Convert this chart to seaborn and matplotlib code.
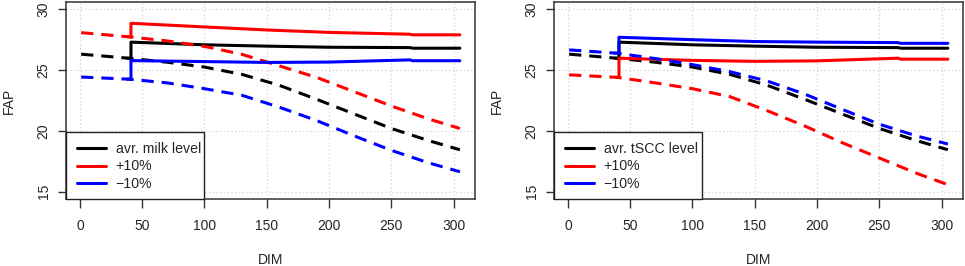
import matplotlib
matplotlib.use("Agg")
import matplotlib.pyplot as plt
import matplotlib.patches as mpatches
import numpy as np
import pandas as pd
import seaborn as sns
from matplotlib.lines import Line2D

# ---------------- data ----------------
dim_dashed = [1, 40, 70, 100, 130, 160, 190, 220, 250, 280, 305]
dim_solid = [38, 41, 41, 100, 150, 200, 265, 267, 305]

# shared average curves
avr_dashed = [26.31, 25.97, 25.65, 25.25, 24.65, 23.75, 22.6, 21.4, 20.2, 19.2, 18.45]
avr_solid = [25.98, 25.95, 27.3, 27.08, 26.97, 26.88, 26.85, 26.8, 26.8]

# left panel: milk level
milk_plus_dashed = [28.08, 27.73, 27.4, 26.95, 26.3, 25.35, 24.4, 23.23, 22.05, 20.98, 20.2]
milk_minus_dashed = [24.43, 24.25, 23.95, 23.47, 22.93, 21.95, 20.85, 19.6, 18.4, 17.37, 16.64]
milk_plus_solid = [27.75, 27.72, 28.85, 28.55, 28.3, 28.1, 27.95, 27.9, 27.9]
milk_minus_solid = [24.26, 24.24, 25.78, 25.7, 25.63, 25.66, 25.84, 25.77, 25.77]

# right panel: tSCC level
tscc_plus_dashed = [24.61, 24.4, 23.95, 23.47, 22.82, 21.66, 20.41, 19.04, 17.77, 16.51, 15.58]
tscc_minus_dashed = [26.66, 26.38, 25.95, 25.45, 24.87, 24.1, 23.03, 21.78, 20.55, 19.58, 18.92]
tscc_plus_solid = [24.41, 24.39, 25.98, 25.8, 25.72, 25.76, 25.98, 25.9, 25.9]
tscc_minus_solid = [26.4, 26.37, 27.7, 27.5, 27.35, 27.3, 27.26, 27.2, 27.2]

labels_left = ["avr. milk level", "+10%", "\u221210%"]
labels_right = ["avr. tSCC level", "+10%", "\u221210%"]
colors = ["black", "#ff0000", "#0000ff"]
x_ticks = [0, 50, 100, 150, 200, 250, 300]
y_ticks = [15, 20, 25, 30]

# ---------------- style ----------------
sns.set_style("white")
plt.rcParams["font.family"] = ["Liberation Sans", "DejaVu Sans"]

W, H = 965, 266
fig = plt.figure(figsize=(W / 100, H / 100), dpi=100)
AX_BOTTOM, AX_TOP = 199, 2
ax1 = fig.add_axes([66 / W, 1 - AX_BOTTOM / H, (475 - 66) / W, (AX_BOTTOM - AX_TOP) / H])
ax2 = fig.add_axes([554 / W, 1 - AX_BOTTOM / H, (963 - 554) / W, (AX_BOTTOM - AX_TOP) / H])

LW = 2.2
DASH = (0, (4.0, 2.6))
FS = 10


def draw(ax, solids, dasheds, labels, box_right_px, ax_left_px):
    for col, s, d in zip(colors, solids, dasheds):
        dfs = pd.DataFrame({"DIM": dim_solid, "FAP": s})
        dfd = pd.DataFrame({"DIM": dim_dashed, "FAP": d})
        sns.lineplot(data=dfs, x="DIM", y="FAP", ax=ax, color=col, lw=LW,
                     estimator=None, sort=False)
        l = sns.lineplot(data=dfd, x="DIM", y="FAP", ax=ax, color=col, lw=LW,
                         estimator=None, sort=False)
        l.lines[-1].set_linestyle(DASH)
    ax.set_xlim(-11.16, 317.16)
    ax.set_ylim(14.4, 30.6)
    ax.set_xticks(x_ticks)
    ax.set_yticks(y_ticks)
    ax.grid(True, color="#d3d3d3", linestyle=(0, (1, 2)), lw=0.9)
    ax.set_axisbelow(True)
    for sp in ax.spines.values():
        sp.set_color("#333333")
        sp.set_linewidth(1.1)
    ax.tick_params(axis="x", direction="out", length=6.5, width=1.0,
                   color="#333333", labelsize=FS, pad=8, bottom=True)
    ax.tick_params(axis="y", direction="out", length=6, width=1.0,
                   color="#333333", labelsize=FS, pad=5, left=True)
    for t in ax.get_yticklabels():
        t.set_rotation(90)
        t.set_va("center")
    ax.set_xlabel("DIM", fontsize=FS, labelpad=14)
    ax.set_ylabel("FAP", fontsize=FS, labelpad=15)

    # legend box (R-style, bottom-left, top aligned at y=20 gridline)
    axw = 409.0
    axh = AX_BOTTOM - AX_TOP
    rect = mpatches.Rectangle((0, 0), (box_right_px - ax_left_px) / axw,
                              (AX_BOTTOM - 132) / axh, transform=ax.transAxes,
                              facecolor="white", edgecolor="#222222", lw=1.0,
                              zorder=4, clip_on=False)
    ax.add_patch(rect)
    handles = [Line2D([], [], color=c, lw=LW) for c in colors]
    leg = ax.legend(handles, labels, loc="center left",
                    bbox_to_anchor=(11.3 / axw, (AX_BOTTOM - 166.5) / axh),
                    borderaxespad=0, borderpad=0, fontsize=FS + 0.2,
                    handlelength=2.05, handletextpad=0.65, labelspacing=0.22,
                    frameon=False)
    leg.set_zorder(5)


draw(ax1, [avr_solid, milk_plus_solid, milk_minus_solid],
     [avr_dashed, milk_plus_dashed, milk_minus_dashed], labels_left, 204, 66)
draw(ax2, [avr_solid, tscc_plus_solid, tscc_minus_solid],
     [avr_dashed, tscc_plus_dashed, tscc_minus_dashed], labels_right, 702, 554)

fig.savefig("out.png", dpi=100)
